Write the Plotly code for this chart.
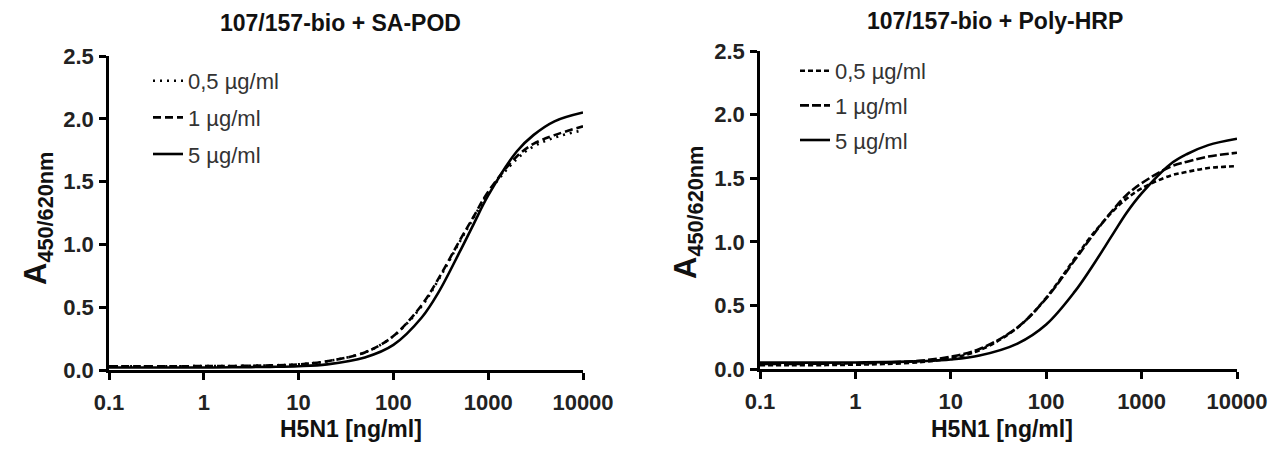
import plotly.graph_objects as go

# Concentrations of H5N1 [ng/ml]
conc = [0.1, 0.2, 0.5, 1, 2, 5, 10, 20, 50, 100, 200, 300, 500, 700, 1000, 2000, 3000, 5000, 10000]

# Left panel: 107/157-bio + SA-POD
sapod_05 = [0.03, 0.03, 0.03, 0.031, 0.032, 0.037, 0.045, 0.07, 0.14, 0.27, 0.51, 0.72, 1.02, 1.21, 1.41, 1.68, 1.78, 1.85, 1.91]
sapod_1 = [0.03, 0.03, 0.03, 0.031, 0.032, 0.037, 0.045, 0.07, 0.14, 0.27, 0.52, 0.73, 1.03, 1.22, 1.42, 1.70, 1.80, 1.87, 1.94]
sapod_5 = [0.02, 0.02, 0.02, 0.02, 0.022, 0.025, 0.03, 0.045, 0.10, 0.20, 0.42, 0.62, 0.94, 1.16, 1.39, 1.74, 1.87, 1.98, 2.05]

# Right panel: 107/157-bio + Poly-HRP
hrp_05 = [0.03, 0.03, 0.031, 0.034, 0.039, 0.055, 0.085, 0.147, 0.325, 0.56, 0.87, 1.05, 1.24, 1.34, 1.42, 1.52, 1.55, 1.58, 1.595]
hrp_1 = [0.04, 0.04, 0.042, 0.045, 0.05, 0.067, 0.097, 0.157, 0.327, 0.555, 0.858, 1.04, 1.25, 1.37, 1.46, 1.59, 1.63, 1.67, 1.70]
hrp_5 = [0.05, 0.05, 0.05, 0.051, 0.054, 0.062, 0.075, 0.106, 0.20, 0.35, 0.61, 0.80, 1.06, 1.23, 1.38, 1.61, 1.69, 1.76, 1.81]

series_names = ["0,5 µg/ml", "1 µg/ml", "5 µg/ml"]
x_tickvals = [0.1, 1, 10, 100, 1000, 10000]
x_ticktext = ["0.1", "1", "10", "100", "1000", "10000"]
y_tickvals = [0.0, 0.5, 1.0, 1.5, 2.0, 2.5]

panel_titles = ["107/157-bio + SA-POD", "107/157-bio + Poly-HRP"]
x_title = "H5N1 [ng/ml]"
y_title = "A<sub>450/620nm</sub>"

FONT = "Liberation Sans, Arial, sans-serif"
PAGE_W, PAGE_H = 1279, 451
BODY = 8  # default page body margin
W, H = PAGE_W - 2 * BODY, PAGE_H - 2 * BODY

left_dash = ["2px,5px", "8px,4px", "solid"]
right_dash = ["5px,3px", "9px,3px", "solid"]

fig = go.Figure()

for i, (ys, dash) in enumerate(zip([sapod_05, sapod_1, sapod_5], left_dash)):
    fig.add_trace(go.Scatter(
        x=conc, y=ys, mode="lines", name=series_names[i],
        line=dict(color="black", width=2.6, dash=dash, shape="spline", smoothing=1.0),
        xaxis="x", yaxis="y", legend="legend", legendgroup=f"l{i}",
    ))
for i, (ys, dash) in enumerate(zip([hrp_05, hrp_1, hrp_5], right_dash)):
    fig.add_trace(go.Scatter(
        x=conc, y=ys, mode="lines", name=series_names[i],
        line=dict(color="black", width=2.6, dash=dash, shape="spline", smoothing=1.0),
        xaxis="x2", yaxis="y2", legend="legend2", legendgroup=f"r{i}",
    ))

def px_x(p):
    return (p - BODY) / W

def px_y(p):
    return 1 - (p - BODY) / H

xaxis_common = dict(
    type="log", range=[-1, 4], tickvals=x_tickvals, ticktext=x_ticktext,
    showline=True, linecolor="black", linewidth=2.5, ticks="outside", ticklen=7,
    tickwidth=2.5, tickcolor="black", showgrid=False, zeroline=False,
    tickfont=dict(family=FONT, size=22, color="#222", weight="bold"),
    ticklabelstandoff=4, automargin=False,
)
yaxis_common = dict(
    range=[0, 2.5], tickvals=y_tickvals, tickformat=".1f",
    showline=True, linecolor="black", linewidth=2.5, ticks="outside", ticklen=7,
    tickwidth=2.5, tickcolor="black", showgrid=False, zeroline=False,
    tickfont=dict(family=FONT, size=22, color="#222", weight="bold"),
    ticklabelstandoff=1, automargin=False,
)

fig.update_layout(
    width=W, height=H,
    margin=dict(l=0, r=0, t=0, b=0),
    paper_bgcolor="white", plot_bgcolor="white",
    xaxis=dict(xaxis_common, domain=[px_x(109), px_x(583)], anchor="y"),
    yaxis=dict(yaxis_common, domain=[px_y(370), px_y(56)], anchor="x"),
    xaxis2=dict(xaxis_common, domain=[px_x(760), px_x(1237)], anchor="y2"),
    yaxis2=dict(yaxis_common, domain=[px_y(369), px_y(51)], anchor="x2"),
    legend=dict(
        x=px_x(148), y=px_y(60), xanchor="left", yanchor="top",
        font=dict(family=FONT, size=22, color="#333"),
        tracegroupgap=5, bgcolor="rgba(0,0,0,0)",
    ),
    legend2=dict(
        x=px_x(795), y=px_y(50), xanchor="left", yanchor="top",
        font=dict(family=FONT, size=22, color="#333"),
        tracegroupgap=3, bgcolor="rgba(0,0,0,0)",
    ),
    showlegend=True,
)

annotations = [
    dict(text=panel_titles[0], x=px_x(340), y=px_y(23)),
    dict(text=panel_titles[1], x=px_x(995), y=px_y(21)),
]
for a in annotations:
    a.update(xref="paper", yref="paper", showarrow=False, xanchor="center", yanchor="middle",
             font=dict(family=FONT, size=23, color="#111", weight="bold"))

for xc in (351, 1002):
    annotations.append(dict(text=x_title, x=px_x(xc), y=px_y(429), xref="paper", yref="paper",
                            showarrow=False, xanchor="center", yanchor="middle",
                            font=dict(family=FONT, size=23, color="#111", weight="bold")))
for xc, yc in ((38, 219), (688, 213)):
    annotations.append(dict(text=y_title, x=px_x(xc), y=px_y(yc), xref="paper", yref="paper",
                            showarrow=False, xanchor="center", yanchor="middle", textangle=-90,
                            font=dict(family=FONT, size=31, color="#111", weight="bold")))
fig.update_layout(annotations=annotations)

fig.write_html("out.html")
